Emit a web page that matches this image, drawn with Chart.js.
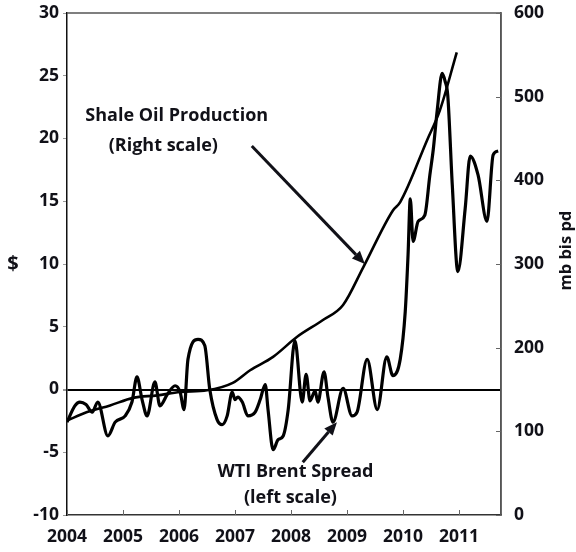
<!DOCTYPE html>
<html>
<head>
<meta charset="utf-8">
<script src="https://cdn.jsdelivr.net/npm/chart.js@4"></script>
<style>
  html, body { margin: 0; padding: 0; background: #fff; }
  #wrap { width: 576px; height: 552px; }
</style>
</head>
<body>
<div id="wrap"><canvas id="spreadChart" width="576" height="552"></canvas></div>
<script>
// WTI-Brent spread, $ (left scale)
const spreadYears = [
  2004.00, 2004.14, 2004.23, 2004.34, 2004.45, 2004.55, 2004.73, 2004.86, 2005.04, 2005.16,
  2005.25, 2005.34, 2005.43, 2005.57, 2005.66, 2005.79, 2005.93, 2006.02, 2006.09, 2006.16,
  2006.34, 2006.46, 2006.55, 2006.68, 2006.77, 2006.86, 2006.95, 2007.00, 2007.05, 2007.13,
  2007.23, 2007.36, 2007.45, 2007.54, 2007.59, 2007.68, 2007.77, 2007.86, 2007.95, 2008.07,
  2008.20, 2008.27, 2008.34, 2008.43, 2008.48, 2008.59, 2008.66, 2008.75, 2008.93, 2009.09,
  2009.18, 2009.36, 2009.54, 2009.71, 2009.82, 2009.95, 2010.04, 2010.09, 2010.13, 2010.18,
  2010.27, 2010.39, 2010.48, 2010.54, 2010.61, 2010.70, 2010.75, 2010.80, 2010.88, 2010.98,
  2011.11, 2011.20, 2011.34, 2011.50, 2011.61, 2011.70
];
const spreadValues = [
  -2.6, -1.3, -1.0, -1.2, -1.8, -1.0, -3.7, -2.6, -2.1, -1.0,
  1.0, -0.8, -2.1, 0.6, -1.3, -0.4, 0.3, -0.2, -1.6, 2.4,
  4.0, 3.5, 0.0, -2.4, -2.8, -2.1, -0.2, -0.8, -0.6, -1.0,
  -2.1, -1.8, -0.8, 0.4, -1.6, -4.8, -4.0, -3.7, -1.6, 3.9,
  -1.0, 1.2, -0.9, -0.1, -1.0, 1.4, -0.6, -2.6, 0.1, -2.1,
  -1.8, 2.4, -1.6, 2.6, 1.1, 2.4, 6.2, 10.7, 15.2, 11.8,
  13.4, 13.9, 17.1, 19.1, 22.2, 25.2, 24.6, 23.4, 16.3, 9.4,
  14.4, 18.6, 17.1, 13.4, 18.7, 19.0
];

// Shale oil production, mb/d (right scale)
const shaleYears = [
  2004.00, 2004.36, 2004.77, 2005.18, 2005.61, 2006.02, 2006.50, 2006.96, 2007.27, 2007.68,
  2008.11, 2008.57, 2008.93, 2009.29, 2009.82, 2009.95, 2010.43, 2010.66, 2010.96
];
const shaleOutput = [
  113, 123, 131, 140, 143, 147, 149, 158, 173, 189,
  213, 233, 251, 296, 364, 374, 448, 484, 553
];

const yearTicks = [2004, 2005, 2006, 2007, 2008, 2009, 2010, 2011];
const leftTicks = [-10, -5, 0, 5, 10, 15, 20, 25, 30];
const rightTicks = [0, 100, 200, 300, 400, 500, 600];

// callouts, placed in data units (x: year, y: left scale)
const notes = [
  { text: 'Shale Oil Production', x: 2005.96, y: 21.8 },
  { text: '(Right scale)', x: 2005.72, y: 19.4 },
  { text: 'WTI Brent Spread', x: 2008.08, y: -6.6 },
  { text: '(left scale)', x: 2007.99, y: -8.6 }
];
const arrows = [
  { from: [2007.30, 19.4], to: [2009.32, 10.0] },
  { from: [2008.21, -5.8], to: [2008.82, -2.6] }
];

const INK = '#111118';
const FONT = '"Open Sans", "DejaVu Sans", sans-serif';

function toPoints(xs, ys) {
  return xs.map((x, i) => ({ x, y: ys[i] }));
}

function drawArrow(ctx, x1, y1, x2, y2) {
  const ang = Math.atan2(y2 - y1, x2 - x1);
  const head = 13, half = 5.5;
  const bx = x2 - head * Math.cos(ang), by = y2 - head * Math.sin(ang);
  ctx.beginPath();
  ctx.moveTo(x1, y1);
  ctx.lineTo(bx, by);
  ctx.stroke();
  ctx.beginPath();
  ctx.moveTo(x2, y2);
  ctx.lineTo(bx + half * Math.sin(ang), by - half * Math.cos(ang));
  ctx.lineTo(bx - half * Math.sin(ang), by + half * Math.cos(ang));
  ctx.closePath();
  ctx.fill();
}

// fixed axis box; drop the label overhang padding so the plot top sits at 13px
function fixVertical(width) {
  return s => { s.width = width; s.paddingTop = 0; s.paddingBottom = 0; };
}

const extrasPlugin = {
  id: 'extras',
  beforeDatasetsDraw(chart) {
    const { ctx, chartArea: a, scales } = chart;
    ctx.save();
    // frame
    ctx.strokeStyle = '#555';
    ctx.lineWidth = 1.5;
    ctx.beginPath();
    ctx.moveTo(a.left, a.top); ctx.lineTo(a.right, a.top); ctx.lineTo(a.right, a.bottom);
    ctx.stroke();
    // inward tick marks on bottom and right axes
    ctx.strokeStyle = '#666';
    ctx.lineWidth = 1;
    scales.x.ticks.forEach((t, i) => {
      const px = Math.round(scales.x.getPixelForTick(i)) + 0.5;
      ctx.beginPath(); ctx.moveTo(px, a.bottom); ctx.lineTo(px, a.bottom - 5); ctx.stroke();
    });
    scales.y2.ticks.forEach((t, i) => {
      const py = Math.round(scales.y2.getPixelForTick(i)) + 0.5;
      ctx.beginPath(); ctx.moveTo(a.right, py); ctx.lineTo(a.right - 5, py); ctx.stroke();
    });
    ctx.restore();
  },
  afterDraw(chart) {
    const { ctx, chartArea: a, scales } = chart;
    const sx = scales.x, sy = scales.y;
    ctx.save();
    ctx.fillStyle = INK;
    ctx.strokeStyle = INK;
    ctx.textAlign = 'center';
    ctx.textBaseline = 'middle';
    ctx.font = `bold 18px ${FONT}`;
    notes.forEach(n => ctx.fillText(n.text, sx.getPixelForValue(n.x), sy.getPixelForValue(n.y)));
    ctx.lineWidth = 3;
    arrows.forEach(ar => drawArrow(ctx,
      sx.getPixelForValue(ar.from[0]), sy.getPixelForValue(ar.from[1]),
      sx.getPixelForValue(ar.to[0]), sy.getPixelForValue(ar.to[1])));
    // axis titles
    ctx.font = `bold 20px ${FONT}`;
    ctx.fillText('$', 13, sy.getPixelForValue(10));
    ctx.font = `bold 16.5px ${FONT}`;
    ctx.translate(a.right + 65, scales.y2.getPixelForValue(316));
    ctx.rotate(-Math.PI / 2);
    ctx.fillText('mb bis pd', 0, 0);
    ctx.restore();
  }
};

const tickFont = { family: FONT, size: 17.5, weight: 'bold' };

new Chart(document.getElementById('spreadChart'), {
  type: 'line',
  data: {
    datasets: [
      {
        label: 'WTI Brent Spread',
        data: toPoints(spreadYears, spreadValues),
        yAxisID: 'y',
        borderColor: '#000',
        borderWidth: 3.2,
        pointRadius: 0,
        cubicInterpolationMode: 'monotone',
        fill: false
      },
      {
        label: 'Shale Oil Production',
        data: toPoints(shaleYears, shaleOutput),
        yAxisID: 'y2',
        borderColor: '#000',
        borderWidth: 2.6,
        pointRadius: 0,
        cubicInterpolationMode: 'monotone',
        fill: false
      }
    ]
  },
  options: {
    responsive: false,
    animation: false,
    devicePixelRatio: 1,
    layout: { autoPadding: false, padding: { top: 13, left: 0, right: 0, bottom: 0 } },
    plugins: { legend: { display: false }, tooltip: { enabled: false } },
    scales: {
      x: {
        type: 'linear',
        min: 2004,
        max: 2011.75,
        afterBuildTicks: s => { s.ticks = yearTicks.map(v => ({ value: v })); },
        afterFit: s => { s.height = 37; s.paddingLeft = 0; s.paddingRight = 0; },
        grid: { display: false, drawTicks: false },
        border: { display: true, color: '#333', width: 1.5 },
        ticks: { color: INK, font: tickFont, padding: 12, maxRotation: 0, callback: v => String(v) }
      },
      y: {
        position: 'left',
        min: -10,
        max: 30,
        afterBuildTicks: s => { s.ticks = leftTicks.map(v => ({ value: v })); },
        afterFit: fixVertical(67),
        grid: {
          drawOnChartArea: true,
          color: c => (c.tick && c.tick.value === 0 ? '#000' : 'rgba(0,0,0,0)'),
          lineWidth: c => (c.tick && c.tick.value === 0 ? 2 : 1),
          tickColor: '#999',
          tickLength: 4
        },
        border: { display: true, color: '#111', width: 1.5 },
        ticks: { color: INK, font: tickFont, padding: 4 }
      },
      y2: {
        position: 'right',
        min: 0,
        max: 600,
        afterBuildTicks: s => { s.ticks = rightTicks.map(v => ({ value: v })); },
        afterFit: fixVertical(75),
        grid: { drawOnChartArea: false, drawTicks: false },
        border: { display: true, color: '#555', width: 1.5 },
        ticks: { color: INK, font: tickFont, padding: 13 }
      }
    }
  },
  plugins: [extrasPlugin]
});
</script>
</body>
</html>
